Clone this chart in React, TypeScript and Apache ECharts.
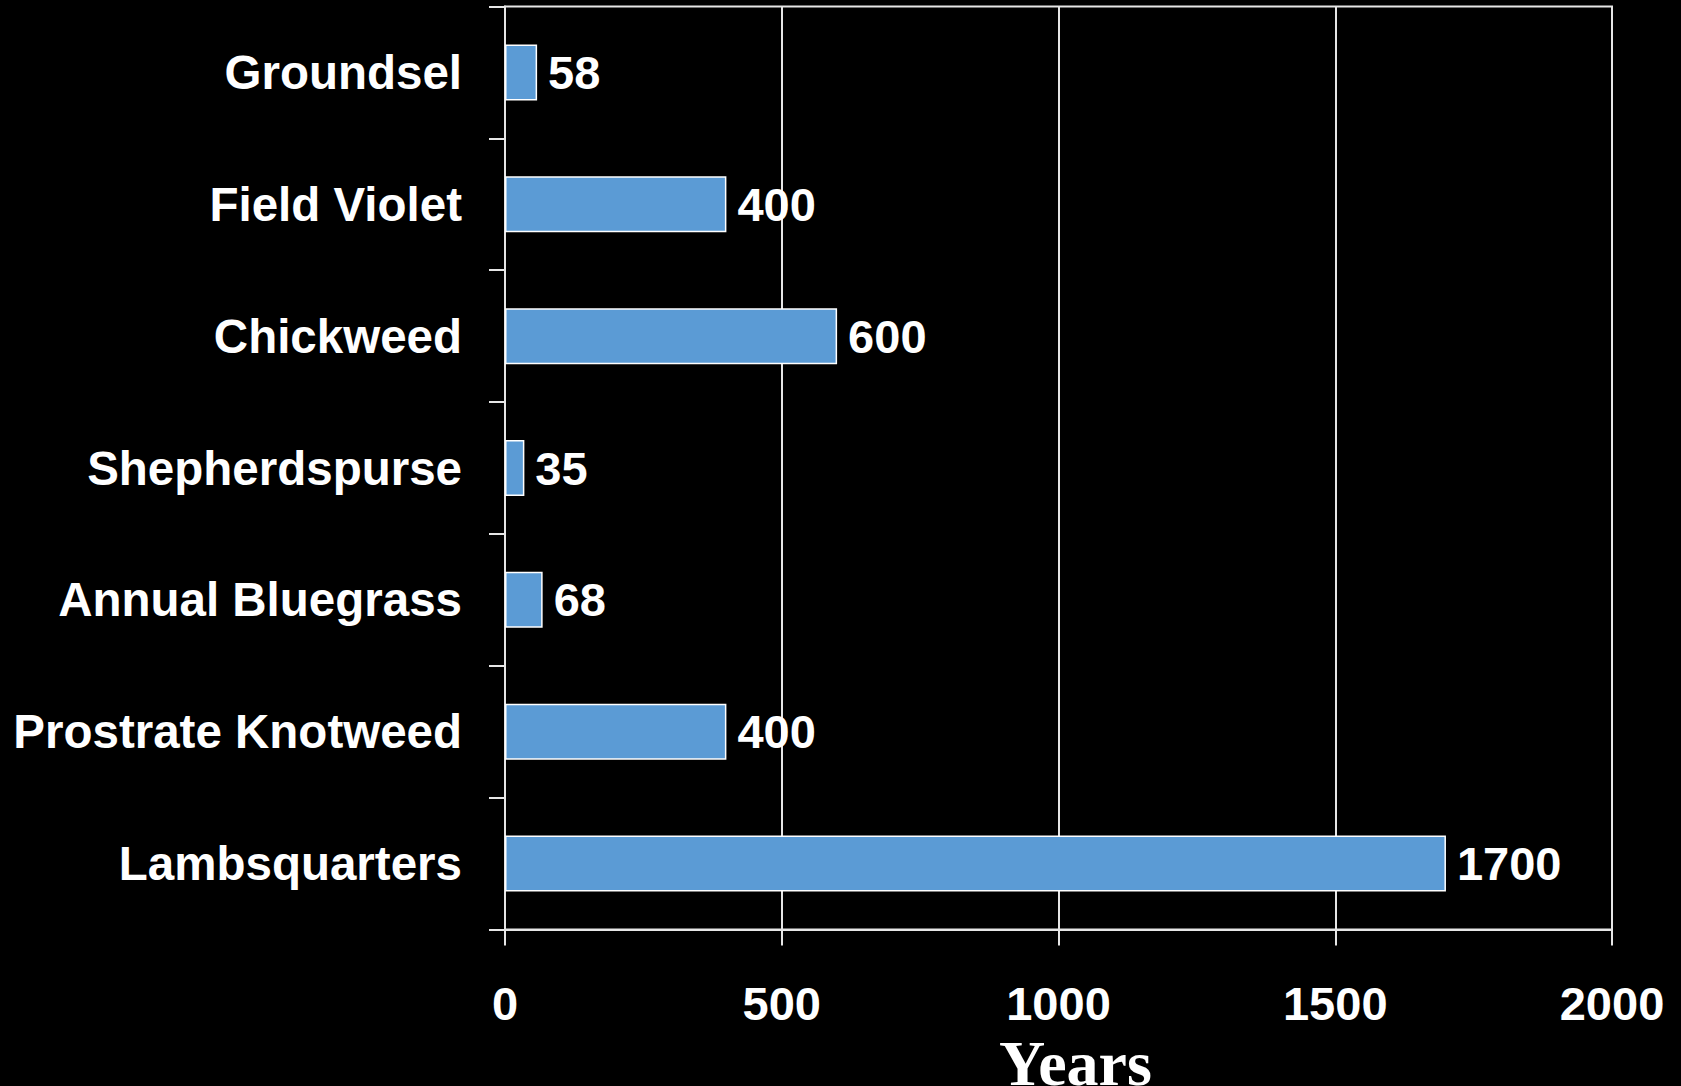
import React, { useEffect, useRef } from "react";
import * as echarts from "echarts";

const categories = [
  "Groundsel",
  "Field Violet",
  "Chickweed",
  "Shepherdspurse",
  "Annual Bluegrass",
  "Prostrate Knotweed",
  "Lambsquarters",
];
const years = [58, 400, 600, 35, 68, 400, 1700];
const xTicks = [0, 500, 1000, 1500, 2000];
const axisTitle = "Years";

export default function App() {
  const ref = useRef<HTMLDivElement>(null);
  useEffect(() => {
    if (!ref.current) return;
    const chart = echarts.init(ref.current, null, { renderer: "svg" });
    const sans = "'Liberation Sans', Arial, sans-serif";
    chart.setOption({
      animation: false,
      backgroundColor: "#000000",
      grid: {
        left: 505,
        right: 69,
        top: 6.5,
        bottom: 156.5,
        containLabel: false,
        outerBoundsMode: "none",
        show: true,
        borderColor: "#e6e6e6",
        borderWidth: 2,
        backgroundColor: "transparent",
      },
      xAxis: {
        type: "value",
        min: xTicks[0],
        max: xTicks[xTicks.length - 1],
        interval: 500,
        name: axisTitle,
        nameLocation: "middle",
        nameGap: 100,
        nameTextStyle: {
          color: "#ffffff",
          fontFamily: "'Liberation Serif', 'Times New Roman', serif",
          fontWeight: "bold",
          fontSize: 64,
          padding: [0, 0, 0, 34],
        },
        axisLine: { show: true, lineStyle: { color: "#e6e6e6", width: 2 } },
        axisTick: { show: true, length: 16, lineStyle: { color: "#e6e6e6", width: 2 } },
        axisLabel: {
          color: "#ffffff",
          fontFamily: sans,
          fontWeight: "bold",
          fontSize: 47,
          margin: 50,
          formatter: (v: number) => String(v),
        },
        splitLine: { show: true, lineStyle: { color: "#e6e6e6", width: 2 } },
      },
      yAxis: {
        type: "category",
        data: categories,
        inverse: true,
        axisLine: { show: true, lineStyle: { color: "#e6e6e6", width: 2 } },
        axisTick: { show: true, length: 16, lineStyle: { color: "#e6e6e6", width: 2 } },
        axisLabel: {
          color: "#ffffff",
          fontFamily: sans,
          fontWeight: "bold",
          fontSize: 47.5,
          margin: 43,
        },
        splitLine: { show: false },
      },
      series: [
        {
          type: "bar",
          data: years,
          barWidth: 56,
          itemStyle: { color: "#5b9bd5", borderColor: "#ffffff", borderWidth: 1.5 },
          label: {
            show: true,
            position: "right",
            distance: 11,
            color: "#ffffff",
            fontFamily: sans,
            fontWeight: "bold",
            fontSize: 47,
          },
        },
      ],
    });
    return () => chart.dispose();
  }, []);
  return (
    <div
      ref={ref}
      style={{ position: "fixed", left: 0, top: 0, width: 1681, height: 1086 }}
    />
  );
}
